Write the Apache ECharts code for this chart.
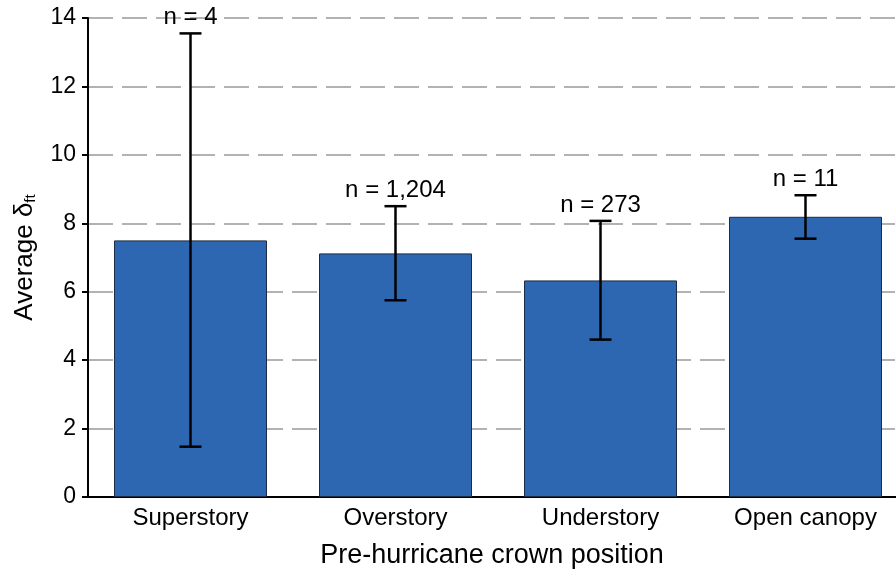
<!DOCTYPE html>
<html><head><meta charset="utf-8">
<script src="https://cdn.jsdelivr.net/npm/echarts@6/dist/echarts.min.js"></script>
<style>html,body{margin:0;padding:0;background:#fff;overflow:hidden;width:896px;height:577px}#c{width:920px;height:577px}</style>
</head><body><div id="c"></div>
<script>
const categories = ['Superstory', 'Overstory', 'Understory', 'Open canopy'];
const means = [7.5, 7.12, 6.33, 8.19];
const lows = [1.47, 5.75, 4.6, 7.55];
const highs = [13.55, 8.5, 8.07, 8.82];
const nLabels = ['n = 4', 'n = 1,204', 'n = 273', 'n = 11'];
const yTicks = [0, 2, 4, 6, 8, 10, 12, 14];

const font = 'Liberation Sans, Arial, sans-serif';
const chart = echarts.init(document.getElementById('c'));
const errData = categories.map((c, i) => [i, lows[i], highs[i], nLabels[i]]);
chart.setOption({
  animation: false,
  grid: { left: 88, top: 18, bottom: 80, right: 12, containLabel: false },
  xAxis: {
    type: 'category', data: categories,
    axisLine: { lineStyle: { color: '#000', width: 2 } },
    axisTick: { show: false },
    axisLabel: { color: '#000', fontSize: 24, fontFamily: font, margin: 9 },
    name: 'Pre-hurricane crown position', nameLocation: 'middle', nameGap: 45,
    nameTextStyle: { color: '#000', fontSize: 27, fontFamily: font, padding: [0, 12, 0, 0] }
  },
  yAxis: {
    type: 'value', min: 0, max: 14, interval: 2,
    axisLine: { show: true, lineStyle: { color: '#000', width: 2 } },
    axisTick: { show: true, length: 6, lineStyle: { color: '#000', width: 2 } },
    axisLabel: { color: '#000', fontSize: 23, fontFamily: font, margin: 12,
      formatter: v => yTicks.includes(v) ? String(v) : '' },
    splitLine: { show: true, lineStyle: { color: '#999', width: 1.5, type: [25, 9] } },
    name: '{a|Average δ}{s|ft}', nameLocation: 'middle', nameGap: 50,
    nameTextStyle: { rich: {
      a: { fontSize: 26, fontFamily: font, color: '#000', lineHeight: 32, verticalAlign: 'bottom' },
      s: { fontSize: 15, fontFamily: font, color: '#000', lineHeight: 26, verticalAlign: 'bottom' }
    } }
  },
  series: [
    {
      type: 'bar', data: means, barWidth: 153,
      itemStyle: { color: '#2e67b1', borderColor: '#1c2c44', borderWidth: 1 }
    },
    {
      type: 'custom', data: errData, z: 10,
      renderItem: function (params, api) {
        const x = api.value(0);
        const lo = api.coord([x, api.value(1)]);
        const hi = api.coord([x, api.value(2)]);
        const cap = 11;
        const st = { stroke: '#000', lineWidth: 2.5 };
        return { type: 'group', children: [
          { type: 'line', shape: { x1: lo[0], y1: lo[1], x2: hi[0], y2: hi[1] }, style: st },
          { type: 'line', shape: { x1: lo[0] - cap, y1: lo[1], x2: lo[0] + cap, y2: lo[1] }, style: st },
          { type: 'line', shape: { x1: hi[0] - cap, y1: hi[1], x2: hi[0] + cap, y2: hi[1] }, style: st },
          { type: 'text', style: { x: hi[0], y: hi[1] - 4, text: api.value(3), textAlign: 'center', textVerticalAlign: 'bottom',
            fontSize: 24, fontFamily: font, fill: '#000' } }
        ] };
      }
    }
  ]
});
</script></body></html>
